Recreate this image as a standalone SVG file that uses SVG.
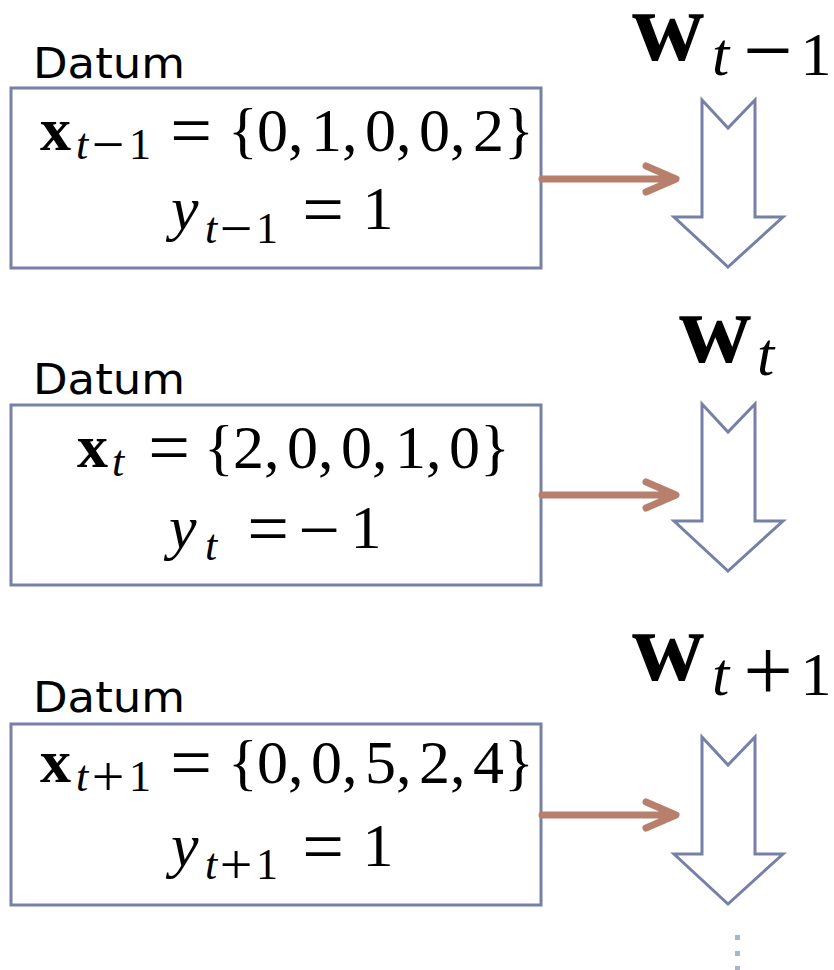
<svg xmlns="http://www.w3.org/2000/svg" width="834" height="970" viewBox="0 0 834 970">
<style>
.box{fill:#fff;stroke:#7680a8;stroke-width:3}
.lbl{font-family:"DejaVu Sans",sans-serif;font-size:43px;fill:#000}
.m{font-family:"Liberation Serif",serif;font-size:62px;fill:#000}
.s{font-family:"Liberation Serif",serif;font-size:44px;fill:#000}
.op{font-family:"Liberation Serif",serif;font-size:74px;fill:#000;text-anchor:middle}
.sop{font-family:"Liberation Serif",serif;font-size:58px;fill:#000;text-anchor:middle}
.c{text-anchor:middle}
.b{font-weight:bold}
.i{font-style:italic}
.blk{fill:#fff;stroke:#7680a8;stroke-width:3;stroke-linejoin:miter}
.conn{stroke:#b8806c;stroke-width:7;fill:none;stroke-linecap:round;stroke-linejoin:round}
.w{font-family:"Liberation Serif",serif;font-size:100px;font-weight:bold;fill:#000}
.ws{font-family:"Liberation Serif",serif;font-size:62px;fill:#000}
.wop{font-family:"Liberation Serif",serif;font-size:88px;fill:#000;text-anchor:middle}
.dot{fill:#a3b6cc}
</style>
<defs>
<path id="blockArrow" d="M0,0 L26,28 L53,0 L53,117 L81,117 L26,167 L-28,117 L0,117 Z"/>
</defs>

<g id="datum1">
<text class="lbl" x="33" y="78" textLength="152" lengthAdjust="spacingAndGlyphs">Datum</text>
<rect class="box" x="11" y="88" width="530" height="180"/>
<text class="m b" x="40" y="150">x</text>
<text class="s i" x="76" y="159">t</text>
<text class="sop" x="108" y="164">−</text>
<text class="s c" x="140" y="159">1</text>
<text class="op" x="191" y="155">=</text>
<text class="m" x="228 257 288 311 342 365 396 419 450 473 504" y="151">{0,1,0,0,2}</text>
<text class="m i" x="171" y="229">y</text>
<text class="s i" x="205" y="243">t</text>
<text class="sop" x="236" y="248">−</text>
<text class="s c" x="267" y="243">1</text>
<text class="op" x="323" y="234">=</text>
<text class="m c" x="378" y="229">1</text>
</g>

<g id="datum2">
<text class="lbl" x="33" y="394" textLength="152" lengthAdjust="spacingAndGlyphs">Datum</text>
<rect class="box" x="11" y="405" width="530" height="180"/>
<text class="m b" x="77" y="467">x</text>
<text class="s i" x="112" y="476">t</text>
<text class="op" x="169" y="472">=</text>
<text class="m" x="204 233 264 287 318 341 372 395 426 449 480" y="468">{2,0,0,1,0}</text>
<text class="m i" x="169" y="548">y</text>
<text class="s i" x="205" y="560">t</text>
<text class="op" x="268" y="553">=</text>
<text class="op" x="319" y="555">−</text>
<text class="m c" x="366" y="548">1</text>
</g>

<g id="datum3">
<text class="lbl" x="33" y="712" textLength="152" lengthAdjust="spacingAndGlyphs">Datum</text>
<rect class="box" x="11" y="724" width="530" height="181"/>
<text class="m b" x="40" y="782">x</text>
<text class="s i" x="76" y="791">t</text>
<text class="sop" x="108" y="796">+</text>
<text class="s c" x="140" y="791">1</text>
<text class="op" x="191" y="787">=</text>
<text class="m" x="228 257 288 311 342 365 396 419 450 473 504" y="783">{0,0,5,2,4}</text>
<text class="m i" x="171" y="866">y</text>
<text class="s i" x="205" y="879">t</text>
<text class="sop" x="236" y="884">+</text>
<text class="s c" x="267" y="879">1</text>
<text class="op" x="323" y="871">=</text>
<text class="m c" x="378" y="866">1</text>
</g>

<g id="w1">
<text class="w" x="632" y="60">w</text>
<text class="ws i" x="712" y="75">t</text>
<text class="wop" x="768" y="80">−</text>
<text class="ws c" x="816" y="75">1</text>
<use href="#blockArrow" class="blk" x="702" y="100"/>
</g>

<g id="w2">
<text class="w" x="679" y="362">w</text>
<text class="ws i" x="757" y="375">t</text>
<use href="#blockArrow" class="blk" x="702" y="404"/>
</g>

<g id="w3">
<text class="w" x="632" y="680">w</text>
<text class="ws i" x="712" y="695">t</text>
<text class="wop" x="768" y="700">+</text>
<text class="ws c" x="816" y="695">1</text>
<use href="#blockArrow" class="blk" x="702" y="737"/>
</g>

<g id="continuation">
<rect class="dot" x="735" y="935" width="5" height="5"/>
<rect class="dot" x="735" y="951" width="5" height="5"/>
<rect class="dot" x="735" y="966" width="5" height="5"/>
</g>

<g id="connectors">
<path class="conn" d="M542,179 L675,179 M646,166 L676,179 L646,192"/>
<path class="conn" d="M542,495 L675,495 M646,482 L676,495 L646,508"/>
<path class="conn" d="M542,815 L675,815 M646,802 L676,815 L646,828"/>
</g>
</svg>
